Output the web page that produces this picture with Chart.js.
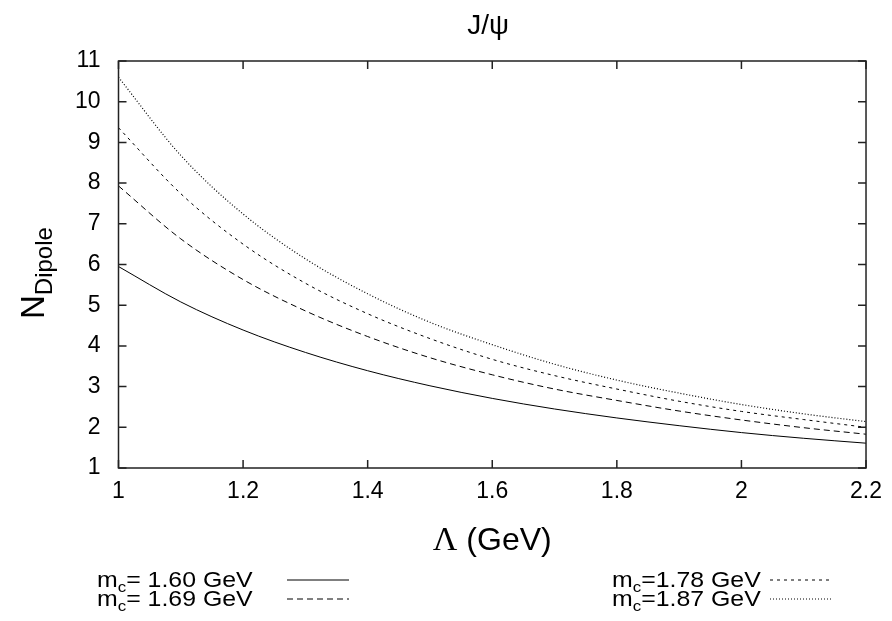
<!DOCTYPE html>
<html>
<head>
<meta charset="utf-8">
<script src="https://cdn.jsdelivr.net/npm/chart.js@4"></script>
<style>
 html,body{margin:0;padding:0;background:#fff}
 #wrap{width:892px;height:621px;position:relative}
</style>
</head>
<body>
<div id="wrap"><canvas id="c" width="892" height="621"></canvas></div>
<script>

// Lambda (GeV) sample points
const lambda = [1.0, 1.1, 1.2, 1.3, 1.4, 1.5, 1.6, 1.7, 1.8, 1.9, 2.0, 2.1, 2.2]

// N_Dipole, one list per charm mass
const n160 = [5.95, 5.08, 4.39, 3.84, 3.39, 3.02, 2.71, 2.45, 2.23, 2.04, 1.87, 1.73, 1.61]
const n169 = [7.93, 6.63, 5.63, 4.86, 4.23, 3.71, 3.29, 2.94, 2.66, 2.40, 2.18, 1.99, 1.83]
const n178 = [9.36, 7.74, 6.50, 5.54, 4.79, 4.18, 3.67, 3.27, 2.94, 2.64, 2.39, 2.19, 2.00]
const n187 = [10.60, 8.68, 7.24, 6.14, 5.28, 4.58, 4.03, 3.55, 3.16, 2.84, 2.56, 2.33, 2.14]

const masses = ["1.60", "1.69", "1.78", "1.87"]
const legendText = ["= 1.60 GeV", "= 1.69 GeV", "=1.78 GeV", "=1.87 GeV"]

const xTicks = [1, 1.2, 1.4, 1.6, 1.8, 2, 2.2]
const yTicks = [1, 2, 3, 4, 5, 6, 7, 8, 9, 10, 11]

const dashes = [[], [6, 4], [3, 4], [1, 2]]
const FONT = "'Liberation Sans', Arial, Helvetica, sans-serif"

function pts(vals){
 return lambda.map((l, i) => ({x: l, y: vals[i]}))
}

const series = [n160, n169, n178, n187]

const datasets = series.map((s, i) => ({
 label: "mc=" + masses[i],
 data: pts(s),
 borderColor: "#000",
 borderWidth: i == 3 ? 1.2 : 1,
 borderDash: dashes[i],
 pointRadius: 0,
 cubicInterpolationMode: "monotone",
 fill: false
}))

// frame, inward ticks and all the text chart.js can't do (subscripts)
const decor = {
 id: "decor",
 afterDatasetsDraw(chart){
  const ctx = chart.ctx
  const a = chart.chartArea
  const xs = chart.scales.x, ys = chart.scales.y
  ctx.save()

  ctx.strokeStyle = "#222"
  ctx.lineWidth = 1.5
  ctx.setLineDash([])
  ctx.strokeRect(a.left, a.top, a.right - a.left, a.bottom - a.top)

  const tl = 8
  ctx.beginPath()
  xTicks.forEach(v => {
   const px = xs.getPixelForValue(v)
   ctx.moveTo(px, a.bottom); ctx.lineTo(px, a.bottom - tl)
   ctx.moveTo(px, a.top); ctx.lineTo(px, a.top + tl)
  })
  yTicks.forEach(v => {
   const py = ys.getPixelForValue(v)
   ctx.moveTo(a.left, py); ctx.lineTo(a.left + tl, py)
   ctx.moveTo(a.right, py); ctx.lineTo(a.right - tl, py)
  })
  ctx.stroke()

  ctx.fillStyle = "#000"

  // title
  ctx.font = "28px " + FONT
  ctx.textAlign = "center"
  ctx.textBaseline = "alphabetic"
  ctx.fillText("J/\u03c8", 488, 34)

  // x axis title
  ctx.textAlign = "left"
  ctx.font = "34px 'Liberation Serif', serif"
  const lw = ctx.measureText("\u039b").width
  ctx.font = "32px " + FONT
  const rw = ctx.measureText(" (GeV)").width
  let x0 = (a.left + a.right) / 2 - (lw + rw) / 2
  ctx.font = "34px 'Liberation Serif', serif"
  ctx.fillText("\u039b", x0, 550)
  ctx.font = "32px " + FONT
  ctx.fillText(" (GeV)", x0 + lw, 550)

  // y axis title N_Dipole
  ctx.save()
  ctx.translate(44, 319)
  ctx.rotate(-Math.PI / 2)
  ctx.font = "33px " + FONT
  ctx.fillText("N", 0, 0)
  const nw = ctx.measureText("N").width
  ctx.font = "24px " + FONT
  ctx.fillText("Dipole", nw, 8)
  ctx.restore()

  // legend (gnuplot's text is a bit wider than ours, stretch it)
  const col = [{tx: 97, lx: 287}, {tx: 612, lx: 770}]
  const rowY = [587, 606]
  masses.forEach((m, i) => {
   const c = col[i < 2 ? 0 : 1]
   const y = rowY[i % 2]
   ctx.save()
   ctx.translate(c.tx, y)
   ctx.scale(1.13, 1)
   ctx.font = "22px " + FONT
   ctx.fillText("m", 0, 0)
   const mw = ctx.measureText("m").width
   ctx.font = "15px " + FONT
   ctx.fillText("c", mw, 5)
   const cw = ctx.measureText("c").width
   ctx.font = "22px " + FONT
   ctx.fillText(legendText[i], mw + cw, 0)
   ctx.restore()

   ctx.strokeStyle = "#000"
   ctx.lineWidth = 1
   ctx.setLineDash(dashes[i])
   ctx.beginPath()
   ctx.moveTo(c.lx, y - 7)
   ctx.lineTo(c.lx + 62, y - 7)
   ctx.stroke()
  })

  ctx.restore()
 }
}

new Chart(document.getElementById("c"), {
 type: "line",
 data: {datasets: datasets},
 options: {
  responsive: false,
  animation: false,
  layout: {padding: {top: 61, right: 23, left: 0, bottom: 0}},
  plugins: {legend: {display: false}, tooltip: {enabled: false}, title: {display: false}},
  scales: {
   x: {
    type: "linear",
    min: 1, max: 2.2,
    afterBuildTicks: s => { s.ticks = xTicks.map(v => ({value: v})) },
    afterFit: s => { s.height = 153 },
    grid: {display: false, drawTicks: false},
    border: {display: false},
    ticks: {color: "#000", padding: 10, font: {family: FONT, size: 23},
     callback: v => String(+v.toFixed(1))}
   },
   y: {
    type: "linear",
    min: 1, max: 11,
    afterBuildTicks: s => { s.ticks = yTicks.map(v => ({value: v})) },
    afterFit: s => { s.width = 118.5 },
    grid: {display: false, drawTicks: false},
    border: {display: false},
    ticks: {color: "#000", padding: 18, font: {family: FONT, size: 23}}
   }
  }
 },
 plugins: [decor]
})
</script>
</body>
</html>
